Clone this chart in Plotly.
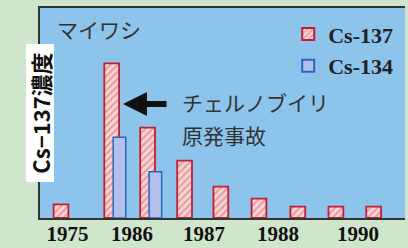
import plotly.graph_objects as go

# sample positions along the time axis (axis units)
sample_pos = [0, 1.37, 2.34, 3.34, 4.32, 5.35, 6.4, 7.43, 8.45]
cs137 = [13.7, 154.7, 90.3, 57.3, 31.3, 19.3, 11.3, 11.3, 11.3]
cs134 = [None, 80.7, 46.3, None, None, None, None, None, None]
tick_pos = [0.176, 1.919, 3.865, 5.865, 8.027]
tick_labels = ["1975", "1986", "1987", "1988", "1990"]

fig = go.Figure()
fig.add_trace(go.Bar(
    x=sample_pos, y=cs137, name="Cs-137", width=0.40, offset=-0.2,
    marker=dict(color="rgb(247,214,214)",
                line=dict(color="rgb(195,30,50)", width=1.8),
                pattern=dict(shape="/", fgcolor="rgb(222,80,95)",
                             bgcolor="rgb(247,214,214)", size=5, solidity=0.35)),
))
fig.add_trace(go.Bar(
    x=sample_pos, y=cs134, name="Cs-134", width=0.34, offset=0.04,
    marker=dict(color="rgb(178,192,236)",
                line=dict(color="rgb(45,100,185)", width=1.5)),
))

fig.update_layout(
    width=408, height=248,
    margin=dict(l=40, r=3, t=8, b=30, autoexpand=False),
    barmode="overlay",
    paper_bgcolor="rgb(207,229,204)",
    plot_bgcolor="rgb(140,196,236)",
    showlegend=True,
    legend=dict(x=0.68, y=0.975, xanchor="left", yanchor="top",
                bgcolor="rgba(0,0,0,0)",
                font=dict(family="Liberation Serif", size=22, color="#222", weight="bold"),
                tracegroupgap=0, itemsizing="constant"),
    xaxis=dict(range=[-0.568, 9.297], tickvals=tick_pos, ticktext=tick_labels,
               showgrid=False, zeroline=False, showline=True, mirror=True,
               linecolor="#333", linewidth=1.5, ticks="", ticklabelstandoff=-4,
               automargin=False,
               tickfont=dict(family="Liberation Serif", size=21, color="#111", weight="bold")),
    yaxis=dict(range=[0, 210], showticklabels=False, showgrid=False, zeroline=False,
               showline=True, linecolor="#333", linewidth=1.5, ticks="", automargin=False),
)

jp = "Noto Sans CJK JP"
fig.add_annotation(x=-0.162, y=189, xref="x", yref="y", text="マイワシ", showarrow=False,
                   xanchor="left", yanchor="middle",
                   font=dict(family=jp, size=21, color="#333"))
fig.add_annotation(x=3.216, y=116, xref="x", yref="y", text="チェルノブイリ", showarrow=False,
                   xanchor="left", yanchor="middle",
                   font=dict(family=jp, size=21, color="#333"))
fig.add_annotation(x=3.216, y=83, xref="x", yref="y", text="原発事故", showarrow=False,
                   xanchor="left", yanchor="middle",
                   font=dict(family=jp, size=21, color="#333"))
fig.add_annotation(x=1.676, y=114, xref="x", yref="y", text="", showarrow=True,
                   ax=45, ay=0, arrowhead=2, arrowwidth=6, arrowsize=0.8,
                   arrowcolor="#111")
fig.add_annotation(x=-0.0397, y=104.5, xref="paper", yref="y", text="Cs−137濃度",
                   showarrow=False, textangle=-90, bgcolor="white",
                   width=137, height=27, borderpad=0,
                   font=dict(family=jp, size=22, color="#111", weight="bold"))

fig.write_html("out.html", config={"displayModeBar": False},
               post_script="document.body.style.margin='0';")
